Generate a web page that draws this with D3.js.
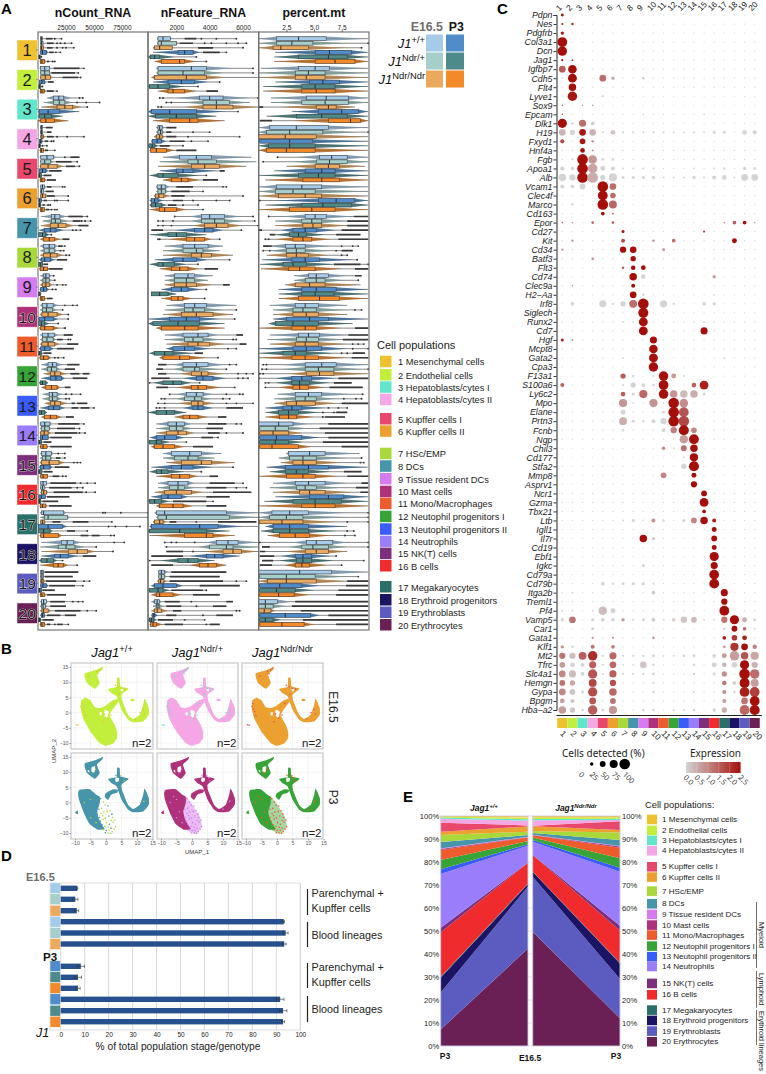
<!DOCTYPE html>
<html><head><meta charset="utf-8">
<script src="https://cdn.jsdelivr.net/npm/d3@7"></script>
<style>html,body{margin:0;padding:0;background:#fff}svg{display:block}text{font-family:"Liberation Sans",Arial,sans-serif}</style>
</head><body><svg id="c" width="766" height="1074"></svg>
<script>
const populations=["Mesenchymal cells","Endothelial cells","Hepatoblasts/cytes I","Hepatoblasts/cytes II","Kupffer cells I","Kupffer cells II","HSc/EMP","DCs","Tissue resident DCs","Mast cells","Mono/Macrophages","Neutophil progenitors I","Neutophil progenitors II","Neutrophils","NK(T) cells","B cells","Megakaryocytes","Erythroid progenitors","Erythroblasts","Erythrocytes"];
const popColors=["#EFC12F","#C1EF3B","#62E6CB","#F5A6E5","#E8486B","#EBA02F","#A9D83A","#4695AA","#D67BF0","#AF3179","#EE5C2D","#38A336","#3A5CFA","#9A7DFB","#7E2F7C","#EF2B2D","#2A7068","#1B1464","#5B5BC0","#6B2055"];
const labelColorIdx=[0,1,2,3,4,5,7,6,8,9,10,11,12,13,14,15,16,17,18,19];
const genotypeColors=["#a6cbe8","#a6cecb","#eba95e","#4f8cc9","#4f8a8b","#f28a2a"];
// each row: q1, median, q3, violin low, violin high, then outliers ([a,b] = dense run)
const nCountRows=[
[[2.4,3,4,2,4.5,[7,13],15,21],[2.5,3.2,4.5,2,5,[8,14],17,20,24,30],[2.4,3.2,4.8,2,5.5,[8,13],17,22,25,32],[2.5,4,7.5,1.5,9,[10,14],16,20],[.8,1.2,2,.5,2.5,3],[2,3.5,6,1.5,7,[8,10],13,15]],
[[2.2,6,10.5,1.5,11,[14,37],41],[2.5,6,10.5,2,11,[12,33],36],[2.5,6.5,11,2,13,[22,36],38],[1.5,3.5,6,1,7,[9,14]],[.8,1.2,2.5,.5,3,4],[2,3.5,5.5,1.5,7,[8,14],17]],
[[13.7,18.5,23,8,30,37,40],[14,19,24,5,31,35,43,55],[17,24,31,3,39,44],[1,9,19,0,37],[1,6,12,0,22],[2.5,7,14.5,0,27]],
[[2.5,3,4,2,4.5,[7,13]],[2.5,3,4,2,4.5,[8,12]],[2.5,3.5,5,2,6,[8,14],17,26,41],[1.5,2.2,3.5,1,4,[6,9],12,14],[.8,1.2,2,.5,2.5,4,8],[2,3,5,1.5,5.5,[6,9],15]],
[[2.5,8,13.7,1.5,16,24,[29,37]],[2.5,6,11,2,14,[16,30],35],[2.5,9,17,1.5,23,[25,33],37],[1,4,7,.5,9,[10,21]],[.7,1.5,3,.5,3.5,[5,12]],[2,3.5,6,1.5,7,[8,16]]],
[[2.5,4,6,2,7,[8,12],22,24],[2.5,3,5,2,5.5,[7,14]],[2.5,4,7,2,8,[8,15],27],[.8,1.5,3,.5,3.5,[5,8],15,17,27],[.8,1.2,2.2,.5,2.8,[4,6],9,11],[2,3.5,6,1.5,6.5,[7,10],12,15,17]],
[[12,15,19.5,3,26,[27,40],44],[12,15.5,20,4,27,[31,38],39,42,47],[11,18,25,2.5,33,[36,45]],[6,11,16,1,23,31,34,38],[.3,4,7,0,10,12],[5,10,14.5,2,20,[22,28]]],
[[5,10,15,2,17,[18,22],24],[5.5,10,15,2,17,20,23],[5,11,17,2,23,25,28],[3,6,11,1,15,[17,26]],[.3,2,4,0,5,[5,9]],[2,5,8.5,1,10,[10,22]]],
[[5,7,10,2,12,14],[4.5,7,10,2,12,15],[4,7,10,2,13,17,22,25],[2.5,5,7.5,1.5,10,13,16],[.2,1,2,0,3],[2,3.5,6,1.5,7,[8,13]]],
[[4,8,13.5,2,18,24,31,35],[4,7.5,13,2,17,22],[3.5,9,17,1.5,23,27],[1,6,13.7,0,18,27],[0,3,6,0,10,18],[2.5,6,13.5,1,19,[23,25]]],
[[4,9,14.5,2,18,[23,31]],[4,8,13.5,2,16,[17,22],27,29],[3.5,9,15,2,19,[26,36]],[2.5,6,10.7,1,14,[17,32]],[.5,1.5,3,0,4,[5,12]],[2,5,9,1,12,15,18,23]],
[[9,13,16.7,3,22,[26,37]],[8.5,12,16.7,3,20,[24,33]],[11,15,20,5,26,[29,37],[40,46]],[11,16,21,3,24,[31,44]],[2,4,7,1,9],[7,12,17,3,20,[24,29]]],
[[10,13,17,4,22,25,30,38],[10,13,17,4,21,25,28],[11,15,20,6,27,[30,33],[35,44]],[9.5,14,19,2,24,[30,36],[38,46],50],[1,3,6,.5,8],[6,11,16.7,3,21,[25,32]]],
[[2.5,6,10.7,1.5,12,[18,37],41],[3,6,10,2,12,[17,33],37],[2.5,5.5,9,1.5,12,[15,35],37,42],[2,4,9,1.5,10,[11,30]],[.5,1.5,3,0,4,[5,12]],[2.5,4.5,8,1.5,9,[11,30]]],
[[3,7,12,2,14,18,24],[4,7,11,2,13,[16,20],24],[3,10,18.7,1.5,24,32,35,38],[2,5,10.7,1,13,[15,28]],[.5,1.5,3.5,0,4,[5,13]],[2.5,4.5,8.5,1.5,9,[13,19],22,25]],
[[2.5,4.5,7.7,2,8,[11,34],38,44,51],[2.5,4,6,2,7,[10,30],35,40],[3,5,7.7,2,9,[14,40],43,51],[.7,3,6.5,.5,7,[8,28]],[.3,1.2,2.5,0,3,[4,18]],[2,4,7,1.5,8,[10,30]]],
[[3,5,23,2,25,58,60,74,98],[6,9,26.5,2,28,98],[2.5,4,6,2,7,[13,20],[31,45],66],[.3,9,21.7,0,26,63,69,79,91],[.3,5,10.7,0,13,[26,33],44],[2.5,5,18,1.5,22,[38,45],[48,55],65,68]],
[[21,26,31.5,3,39,68,77],[18,25,33,2,42,52],[27,35,44,3,52,67],[15,20,27,3,36,[40,52]],[3,8,13.7,1,17,22],[13.7,18,22.6,2,27,35]],
[[2.5,3.5,5,2,6,[6,36]],[2.5,3.5,4.8,2,5.5,[6,31]],[2.5,3.5,5,2,6.5,[7,34],41,46],[2.5,4.5,7.7,2,9,[10,33],40],[.3,1.5,3.3,0,4,[4,15]],[2,3.5,6,1.5,7,[8,25]]],
[[3,5,7.7,2,8,[11,24],31,36,40],[3,4.5,6.8,2,8,[11,25]],[3.5,5,9,2,12,[15,38],44,52],[3,4,5.7,2,6,[8,20],[24,34]],[.3,1.2,2.2,0,3,[4,14]],[2.5,3.5,6,1.5,7,[8,11],15,[17,22],27]]
];
const nFeatureRows=[
[[.9,1.2,1.64,.85,1.7,[2.5,3.2],3.5,4.4,5.6],[.9,1.1,2,.85,2.1,[2.2,3],3.7,4.1,5,5.7,6.2],[.7,1,1.75,.6,1.8,[3.3,4.2],6],[2.1,2.5,3,.6,3.4,[3.6,4.6],5],[.45,.7,1,.3,1.9,3.2],[1.1,2.2,2.5,.7,3.2,3.8]],
[[.9,2.9,3.8,.8,5.4,6.6],[.9,2.4,3.7,.8,4.8,6.6],[.7,2.6,3.8,.5,5,7],[1.5,2.3,3.1,.6,3.9,4.6],[.4,.9,1.6,.3,2.5,3.3],[1.5,1.8,2.5,.9,3.2,[3.8,4.5]]],
[[3.4,4,4.8,2,6.4,1,1.2,6.9],[3.6,4.4,5.2,2.4,6.4,1.4,1.7],[3.6,4.4,5.4,2.5,7,.9,1.1],[.5,1.6,3.2,.3,5,5.7],[.75,2,3.2,.3,4.4],[1.6,2.8,3.3,.6,4.9]],
[[.9,1,1.15,.8,1.3,[1.4,2]],[.9,1.05,1.15,.8,1.3,[1.4,1.7],3,4],[.8,1,1.15,.65,1.3,[1.4,2],2.7,5.8],[.55,.85,1.1,.5,1.4,[1.6,2.5],2.9,3.9],[.35,.55,.7,.3,.9,[1,1.6],2.4],[.45,.8,1.4,.4,1.9,[2,3.2]]],
[[2.2,3.2,4.1,1.2,6.5],[2.7,3.3,4.4,1,6.8],[2.9,3.7,4.6,.9,6.2],[2,2.4,3,1,4.4,[4.6,4.9]],[.9,1.2,2.1,.4,3.4,3.8],[1.7,2.3,2.7,1.2,3.4,[3.6,4.5]]],
[[.85,1.1,1.35,.8,1.6,[2,3],4.8,5],[.9,1.1,1.35,.8,1.5,[1.7,2.8],3.6],[.75,.95,1.25,.65,1.6,[1.7,2.5],6],[.5,.7,.9,.4,1.2,[1.8,2.4],3,4.4,5.2],[.5,.75,1.1,.4,1.4,[1.5,2],2.4,3.3],[1,1.3,2,.4,2.6,3.6]],
[[3.5,4,4.9,2.8,5.9,1.9,6.6],[3.5,4.3,4.9,2.9,6,.9,1.2,1.8,6.7],[3.7,4.4,5.1,3,6,.9,1.2,1.7,6.9],[3.1,3.7,4.2,1.9,4.8,[.5,1.2],5.9],[1.5,2,2.6,.4,3.8],[2.6,3.1,3.7,1.5,4.1,.9,1,4.6]],
[[2.4,3.1,3.9,1.3,4.8],[2.4,3.2,3.6,1.2,4.6],[2.9,3.5,4.1,1.2,5.4],[1.8,2.4,3.2,.7,3.9,5.2],[.9,1.2,1.9,.4,2.6,3.3],[1.7,2.2,2.7,1,3.4,[3.7,4.5]]],
[[1.9,2.7,3.1,1.3,4.2],[1.9,2.6,3.1,1.3,3.9],[1.9,2.6,3.2,1.3,4.2,[4.8,5.2]],[1.7,2.3,2.7,1.1,3.5,3.8],[.5,1,1.5,.5,2],[1.7,2.1,2.4,1.1,3,3.7]],
[[2.5,3.1,3.8,1.4,5.6],[2.5,3,3.7,1.3,4.8,5.6],[2.3,3.2,4.2,1.2,5.4],[1.6,2.6,3.4,.3,4.6,5.5],[.6,2.1,3.4,.3,4.9],[1.1,2.5,3.3,.8,4.9]],
[[2.4,3.3,3.9,1.3,4.5,[5.6,6]],[2.5,3,3.6,1.3,4.7,5.4,5.6],[2.7,3.3,4,1.4,4.9,[5.8,6.2]],[1.8,2.5,3.1,1.4,4,5.1,5.6],[.7,1.3,1.8,.4,3,[3.1,3.6]],[1.2,2.2,2.8,1,3.8,4.5]],
[[2.4,3.2,3.9,1.8,4.9,[.9,1.4],5.2,5.6],[2.4,3.1,3.4,1.8,4.6,[.8,1.2],5],[2.9,3.5,3.9,2.2,4.9,[.9,1.4],5.7,6.2,6.6],[3.2,3.6,4.2,2.4,5,[.5,1.6],5.7,6,6.3],[1.2,1.8,2.3,.6,2.9,.4,3.4],[2.9,3.3,3.8,2,4.7,[.8,1.5],5.5]],
[[2.6,3.2,3.6,2,4.2,1.6,5,5.8,6],[2.5,3.1,3.5,2,4.1,1.1,1.3,4.8,5.2],[2.9,3.3,3.6,2.1,4.3,.9,1.3,5,5.6,6.6],[3,3.3,3.6,2.4,4.2,.8,1,1.3,[5,6]],[.8,1.4,1.9,.3,2.6],[2.4,2.8,3.3,1.9,3.9,[4.5,5]]],
[[1.5,2,2.5,.8,2.9,[3.9,5],5.6,5.9],[1.6,2,2.4,.8,3,[3.8,4.8]],[1.4,2.1,2.6,.8,3.1,[3.9,4.6],5,6],[.8,1.3,2,.4,2.5,[3.5,4.2],4.5],[.4,.8,1.1,.3,1.6,2.6],[.7,1.2,1.9,.5,2.5,[3,4.2]]],
[[1.7,2.8,3.5,1.2,4.7],[1.9,2.7,3.3,1.2,4.3],[2.3,3.5,4.1,1.4,5.5],[1.7,2.3,3,.5,4.2,5.4],[.8,1.1,1.5,.4,2.5,3.5],[1.7,2.2,2.8,.8,3.3,[4,4.5]]],
[[1.5,2.1,2.7,.9,3.1,[4,5.5],6],[1.6,2.1,2.5,.9,3.1,[3.8,5],5.6,6.2],[1.3,2,2.9,.7,3.6,[4.2,6.5]],[1.1,1.5,2.3,.5,2.7,[3.8,5.2]],[.4,.7,1.1,.3,1.6,[1.8,3.8],4.2],[1,1.8,2.4,.8,3,[3.8,5]]],
[[.8,1.3,5,.7,7,7],[.9,1.4,5.2,.8,7],[.7,1,1.2,.6,1.4,[1.6,2],3.2,[4.5,6.8]],[.5,3.4,4.5,.4,6,7],[.4,2.2,3.8,.3,5.2],[2.5,3.8,4.2,.4,5.5]],
[[4.4,5.1,5.7,3.8,6.9,1.3,1.7,2,3.1],[4,5,5.4,3.3,6.9,1.4],[4.8,5.4,5.9,3.6,6.9,[1.4,2.4],3],[3.8,4.3,4.8,2.8,5.8,[.5,2.4]],[2.1,2.7,3.3,1,4.3,.4],[3.4,3.9,4.4,2.8,5,[.5,1.8]]],
[[.95,1.1,1.3,.9,1.5,[1.7,5]],[.95,1.1,1.3,.9,1.4,[1.6,4.6]],[.95,1.05,1.25,.85,1.4,[1.6,4.8],5.6,6.2],[.7,1.2,2,.5,2.4,[3.4,5.8]],[.4,.9,1.2,.3,1.6,[1.7,3.6],3.8],[.8,1,1.8,.5,2.3,[3,4.6]]],
[[.7,.85,1,.5,1.1,[1.3,2.2],2.9,[5,5.4]],[.8,.9,1,.6,1.2,[1.4,2.3],3.2,[4.2,5]],[.7,.85,1.1,.5,1.5,[1.8,2.3],5.6,5.8],[.55,.65,.7,.5,.9,[1.4,2],3.6,[4.4,5.4]],[.4,.5,.65,.3,.8,[.9,1.8],2.5,3.7],[.45,.6,.8,.4,1.2,[1.3,2.4],3.8,[4,4.6]]]
];
const percentMtRows=[
[[1.6,3.6,6.1,0,9.9],[1.6,3,4.9,0,8,9.9],[1.3,2,4.5,0,8,9.3],[5.1,6.4,8.4,1.5,9.9],[3.6,6.3,8,1.4,9.9],[5.1,6.9,8.7,1.4,9.9]],
[[3.6,5.1,6.4,.2,9.9],[3.3,4.5,6,0,9.9],[3.3,4.3,6,0,9.9],[4.6,5.8,7.3,1.5,9.9],[3.9,5.1,6.9,.4,9.9],[3.9,5.2,6.9,.4,9.9]],
[[4.3,6.1,8.1,1.1,9.9],[3.9,6,8.1,1.1,9.9],[5.2,6.3,7,1.8,8.7,[0,.4]],[5.4,7.5,9,3,9.9],[3.4,5.7,8,.7,9.9],[6.3,8.3,9.2,3,9.9,[.1,1.2]]],
[[1,3.4,6.3,0,9.9],[.7,2.8,5.8,0,8.9,9.9],[0,2.4,5.2,0,9.9],[.1,2.8,4.9,0,9.9],[.9,2.8,5.1,0,9.9],[.7,2.5,5.1,0,9.9]],
[[5.5,6.6,8,3.4,9.9,1.7],[5.2,6.4,8,3,9.9,.4],[5.1,6.3,7.3,2.5,9.6],[4.2,5.7,6.9,1.4,9.9],[3.6,5.4,6.9,0,9.9],[4,5.7,7.3,.6,9.9]],
[[1.6,3.9,5.7,0,9.9],[1.5,3.1,5.1,0,9.9],[1.8,4.2,5.7,0,9.9],[5.4,7,8.7,1.5,9.9,.1],[3.9,5.8,8.4,.6,9.9],[2.8,4.8,6.9,0,9.9]],
[[4.2,5.1,6.1,2,8.5,.9,[8.6,9.9]],[3.9,4.8,5.7,1.5,8,[8,9.9]],[4,4.9,5.7,1.5,8,[8,9.9]],[3.1,4.2,5.2,2,7,[0,.3],[7.5,9.9]],[2.8,3.6,4.3,1.5,6,[1,1.5],[7,9.2]],[3.1,4,4.8,1.5,6.5,.6,.9,[7.2,9.9]]],
[[2.4,3.3,4.2,.8,6.5,[.4,1.2],7.5,8.5,9],[2.5,3.4,4.2,1,6.5,.4,1,7,[7.5,8.5]],[2.5,3.4,4.5,.7,6.3,7.5,8],[3,4.2,5.5,.3,8.5,8.9],[2.2,3.1,4.3,.1,6.8,[6.8,9.2],9.9],[2.7,3.7,5.1,.2,7.6,[8.7,9.9]]],
[[4.5,5.2,6.3,3.2,8,[8.7,9.3]],[4.2,5.2,6,3.2,7.8,9],[3.3,4.6,6,2.4,9.2],[3.9,5.2,7,1.8,9.9],[3.9,5.1,6.8,1.8,9.9],[3.6,5.5,7.3,1.8,9.9]],
[[3.3,4.2,5.4,1,8],[3.1,4,5.2,1.3,7.8,8.7,9.3],[3.1,4.3,5.4,1.3,8],[2.5,4.6,6.3,1.3,9.9],[1.5,3.1,5.4,.9,8.5],[3,4.2,5.2,0,7.5,[8.7,9.9]]],
[[3.6,4.5,5.5,1,8,[8.1,9.9]],[3.4,4.3,5.4,.8,7.8,[7.6,9.9]],[3.3,4.2,5.4,1,8,8.5,9,9.5],[3.1,4.3,5.7,0,8,8.5,9.9],[2.2,3.3,4.3,0,6.8,7.5,8,[8.5,9.6]],[3,4.2,5.4,0,8,[8.4,9.9]]],
[[4.2,5.7,7,2,9.9,.4,.7],[4.2,5.4,6.8,2,9.3,.3,.7,9.9],[4.3,5.5,6.8,2.7,9.9,.1,.4],[3,3.9,4.8,1.5,7,[0,.1],[7.2,9.9]],[3,3.7,4.6,1.5,6.4,.6,.9,[6.8,8.4]],[3.1,3.7,4.5,1.8,6,.6,[6.4,9.4]]],
[[3.3,4.5,5.7,1.7,8.5,9.4],[3.3,4.2,5.2,1.4,7,7.7,8.8,9.3],[2.5,3.4,5.1,1.4,7,[7.5,9.9]],[2.2,3,3.9,.6,6,6.3,7.2,8],[1.8,2.7,3.6,.6,5.5,5.8,6.8,[7,8]],[1.9,2.7,3.4,.6,5,5.8,[6,7.8]]],
[[0,1.8,3.1,0,4.5,[6.3,9.9]],[.1,1.5,2.7,0,4.5,[5.5,9.9]],[.1,1.3,2.7,0,4,[6,9.9]],[.1,1.6,3.9,0,5.5,[6.3,9.9]],[.1,1.5,2.7,0,4,[5.8,9.9]],[.1,1.2,3.6,0,4.8,[7.5,9.9]]],
[[2.7,4.6,6,2.5,9.1],[2.8,4,5.2,1.8,8,9.3],[3.1,4,5.2,2,7.5,9.2,9.5],[2.4,4.5,6.3,.7,9.9],[2.4,3.4,4.5,1,6.5,[7.7,9.3]],[2.5,4,5.1,0,7.2,[8,9.9]]],
[[3.3,4.5,6,1.3,8,[9.3,9.9]],[3.4,4.2,5.2,1,7.5,[8.8,9.9]],[3.7,4.6,6,1.3,8.5,[9.2,9.9]],[4.6,6.3,7.7,1.5,9.9],[3.1,5.1,7.5,.5,9.9],[3.9,5.1,6.9,0,9.9]],
[[1.2,2.8,4.5,0,8,9.9],[1,2.5,4,0,8,9.9],[.1,2.1,4,0,7,8,9.9],[1.3,2.8,4.5,.6,8],[1.3,2.8,4.5,.2,7,8,8.6],[1.9,3.3,4.6,.8,6.5,7.8,8.7]],
[[4.3,5.2,6.7,3,8,.1,9.9],[3.9,4.9,6.3,2.7,8,[.3,1],9.9],[4.2,5.2,6.3,2.4,8,[.1,.6]],[3.3,4,4.8,2,6.5,[.1,1.4],7],[3.4,4,4.8,1.8,6.8,[.3,1.3],9.5],[3.3,3.9,4.6,2.3,6.2,[.1,1.2],7.5]],
[[0,3.7,6.6,0,9.9],[.1,2.5,5.1,0,8,9],[.8,2.5,5.2,0,8,[8,9.9]],[.1,1.9,3.9,0,5.5,[7.9,9.9]],[.1,1.6,3.3,0,5,[7.2,9.9]],[.1,1.8,3.2,0,4.6,[7,9.9]]],
[[0,.6,1.7,0,3,[3.3,9.9]],[0,.6,1.3,0,2.5,[3,9.9]],[0,.5,1.1,0,1.5,[3.8,9.9]],[.1,2.4,4.7,0,5.5,[6.3,9.9]],[.1,.6,1.3,0,2,[4,9.9]],[.1,2.1,4.1,0,5,[7,9.9]]]
];
const nCountTicks=[25,50,75], nFeatureTicks=[2,4,6], percentTicks=[2.5,5,7.5];
const geneNames=["Pdpn","Nes","Pdgfrb","Col3a1","Dcn","Jag1","Igfbp7","Cdh5","Flt4","Lyve1","Sox9","Epcam","Dlk1","H19","Fxyd1","Hnf4a","Fgb","Apoa1","Alb","Vcam1","Clec4f","Marco","Cd163","Epor","Cd27","Kit","Cd34","Batf3","Flt3","Cd74","Clec9a","H2−Aa","Irf8","Siglech","Runx2","Cd7","Hgf","Mcpt8","Gata2","Cpa3","F13a1","S100a6","Ly6c2","Mpo","Elane","Prtn3","Fcnb","Ngp","Chil3","Cd177","Stfa2","Mmp8","Asprv1","Ncr1","Gzma","Tbx21","Ltb","Igll1","Il7r","Cd19","Ebf1","Igkc","Cd79a","Cd79b","Itga2b","Treml1","Pf4","Vamp5","Car1","Gata1","Klf1","Mt2","Tfrc","Slc4a1","Hemgn","Gypa","Bpgm","Hba−a2"];
// per gene: [population, dot size, expression]
const geneDots=[
[[1,8,2.4]],[[1,4,2.2],[2,5,2.2]],[[1,10,2.4]],[[1,85,2.5]],[[1,80,2.5]],[[1,4,2.5],[2,3,2]],[[1,40,1.5],[2,65,2.5]],[[2,70,2.5],[5,40,1.3],[6,10,.6],[9,6,.1]],[[2,50,2.5]],[[2,80,2.4],[5,4,.1]],[[1,1.5,2],[3,1.5,1],[4,2,1]],[[1,2,2],[9,1,1],[15,1,1]],
[[1,75,2.5],[2,5,0],[3,45,1.3],[4,12,.1]],
[[1,40,.4],[2,25,0],[3,40,2.4],[4,40,.4],[5,4,0],[6,20,.2],[7,4,0],[8,4,0],[9,4,0],[10,4,0],[11,4,0],[12,3,0],[13,3,0],[14,5,0],[15,3,0],[16,8,0],[17,8,0],[19,20,0],[20,15,0]],
[[1,15,1.8],[3,30,2.4],[4,5,1]],[[3,20,2.5],[4,3,1]],[[2,4,0],[3,100,2.5],[4,65,.8],[5,6,0],[6,6,0]],
[[1,15,0],[2,10,0],[3,100,2.5],[4,80,.6],[5,20,0],[6,15,0],[7,3,0],[8,3,0],[9,4,0],[10,4,0],[14,3,0],[16,4,0],[17,5,0],[19,10,0],[20,8,0]],
[[1,50,0],[2,35,0],[3,100,2.5],[4,100,.5],[5,25,0],[6,60,0],[7,8,0],[8,8,0],[9,8,0],[10,10,0],[11,4,0],[12,3,0],[13,4,0],[14,10,0],[15,4,0],[16,15,0],[17,20,0],[18,3,0],[19,40,0],[20,40,0]],
[[1,14,0],[2,12,0],[3,30,0],[5,100,2.5],[6,40,1.3]],[[5,85,2.5],[6,28,1.3]],[[2,6,0],[5,100,2.5],[6,55,1.4]],[[5,12,2.5],[6,3,1.5]],
[[1,3,1.3],[2,3,.7],[4,6,1.5],[6,6,1.5],[17,3,.8],[18,12,1.5],[19,12,2.5],[20,3,.6]],[[7,8,2.5],[15,4,2]],[[2,5,.8],[7,14,1.7],[10,5,1],[12,12,1.3],[18,22,2.5]],[[1,5,.7],[7,35,2.5],[8,38,2.5],[11,8,.7]],[[4,6,1],[8,25,2.5]],[[7,6,1.5],[8,18,2.5],[9,20,2.5]],[[8,50,2.5],[9,18,0],[16,10,.7]],[[2,2,1],[8,14,2.5]],[[8,40,2.5],[9,6,0],[16,3,0]],
[[2,12,0],[5,45,0],[6,5,0],[7,25,0],[8,55,1.3],[9,100,2.5],[11,45,0],[12,4,0],[15,12,0],[16,10,0]],[[9,90,2.5]],[[7,3,0],[8,3,0],[9,70,2.5],[15,3,0]],[[9,70,2.5],[15,45,2.5]],[[1,8,2.3],[2,3,1],[10,45,2.5]],[[10,65,2.5]],[[7,3,0],[10,70,2.5],[17,4,0]],[[10,80,2.5]],
[[7,25,1.5],[8,6,0],[10,3,0],[11,80,2.5],[12,22,.7],[13,3,0]],[[1,14,1.5],[7,4,0],[8,25,0],[9,12,0],[10,6,0],[11,85,2.5],[14,20,1.5],[15,70,2.3]],[[7,20,1.5],[8,8,0],[9,60,1.4],[11,80,2.5],[12,50,.8],[13,50,.3],[14,50,.5],[15,8,0]],[[7,60,.8],[8,3,0],[10,60,.8],[11,3,0],[12,100,2.5],[13,65,.9]],[[7,22,0],[11,6,0],[12,100,2.5],[13,85,1.6]],[[7,55,.5],[8,8,0],[9,5,0],[10,14,0],[11,35,0],[12,100,2.5],[13,100,1.8]],[[7,5,0],[11,12,0],[12,35,1.1],[13,90,2.5],[14,28,1]],[[13,65,.7],[14,85,2.5]],[[11,10,1],[12,3,0],[13,30,1.3],[14,50,2.5]],[[13,4,0],[14,60,2.5]],[[13,25,0],[14,90,2.5]],[[11,30,1],[14,22,2.5]],[[14,35,2.5]],[[15,30,2.5]],[[15,70,2.5]],[[15,12,2.5]],
[[7,3,0],[8,8,0],[9,3,0],[10,14,.8],[11,5,0],[13,8,0],[14,30,1],[15,50,2.5],[16,14,2.3]],[[16,22,2.5]],[[9,50,2.5],[10,8,.2],[16,30,2.5]],[[16,22,2.5]],[[16,75,2.5]],[[9,8,0],[16,45,2.5]],[[16,85,2.5]],[[5,12,0],[6,5,0],[7,8,0],[8,8,0],[9,10,0],[10,4,0],[16,85,2.5]],[[2,3,0],[10,12,.1],[17,45,2.5]],[[17,35,2.5]],[[1,3,0],[2,3,0],[4,3,0],[5,65,.3],[6,22,0],[17,85,2.5]],
[[1,10,0],[2,40,1.2],[4,8,0],[5,12,0],[6,10,0],[7,10,.7],[8,4,0],[9,8,0],[10,14,.1],[11,4,0],[12,12,0],[13,35,.2],[14,30,.3],[15,3,0],[16,3,0],[17,35,1.2],[18,75,2.5],[19,22,.5],[20,8,0]],
[[4,8,0],[17,5,0],[18,30,2.5],[19,12,1.3],[20,3,0]],[[4,4,1],[6,4,1],[10,5,1],[17,12,2.3],[18,28,2],[19,20,2.3]],[[1,10,.8],[2,6,0],[4,14,1.2],[6,12,1.1],[17,6,.8],[18,60,2],[19,40,2.5],[20,18,1]],
[[1,35,1.2],[2,35,.3],[3,55,1.5],[4,80,2.1],[5,5,0],[6,45,1.4],[7,4,0],[8,4,0],[9,5,0],[10,8,0],[11,3,0],[12,3,0],[13,6,0],[14,8,0],[16,12,0],[17,22,.7],[18,80,.7],[19,50,1.6],[20,60,.6]],
[[1,30,.7],[2,22,0],[3,12,0],[4,45,1.5],[5,4,0],[6,40,1.4],[7,3,0],[8,3,0],[9,40,.2],[10,6,0],[14,6,0],[16,22,0],[17,18,.4],[18,30,0],[19,75,2.5],[20,35,.4]],
[[1,40,1],[2,45,.3],[3,12,0],[4,75,1.6],[5,4,0],[6,45,1.5],[7,4,0],[8,4,0],[9,4,0],[10,6,0],[14,5,0],[16,8,0],[17,25,.9],[19,100,2.5],[20,80,1.3]],
[[1,30,1.2],[2,25,.6],[4,55,1.8],[5,3,0],[6,35,1.7],[10,4,0],[17,18,1.2],[18,14,0],[19,90,2.5],[20,55,.7]],
[[1,40,1],[2,30,.2],[3,8,0],[4,75,1.7],[6,50,1.4],[10,5,0],[14,4,0],[17,14,.9],[18,5,0],[19,85,2.3],[20,85,1.9]],
[[1,20,.7],[2,14,.2],[4,40,1.6],[6,30,1.2],[17,14,.7],[19,40,1.2],[20,85,2.5]],
[[1,50,.7],[2,25,.2],[3,5,0],[4,80,1.5],[5,8,0],[6,60,.8],[9,6,0],[10,6,0],[12,4,0],[13,4,0],[14,6,0],[16,10,0],[17,25,.5],[19,85,1.4],[20,90,2.5]]
];
const sizeLegendLabels=["0","25","50","75","100"], sizeLegendSizes=[.3,10,30,57,100];
const exprTicks=[0,.5,1,1.5,2,2.5];
// UMAP outlines in UMAP coordinates
const umapTop=[[-6.7,13],[-3.1,14.1],[-1,15],[-1.2,14.2],[-2.9,12.5],[-2,9.7],[-3.6,7.8],[-6.1,9.7],[-6.9,11.9]];
const umapArc=[[.7,7.8],[3.4,8.4],[3.6,11.4],[4.4,11.4],[4.7,8.6],[7.1,8],[7.1,7.5],[5,5.9],[5.3,3.7],[7.1,-.7],[8.75,-2.1],[10.9,-.7],[12,2.6],[12.5,4.6],[13.8,1.5],[13.8,-.7],[12,-2.9],[8.75,-3.2],[7.1,-2.3],[5,1],[3.4,5.35],[1.8,6.4]];
const umapBlob=[[-7.95,4.04],[-6.55,4.9],[-5.04,4.04],[-3.64,1.84],[-2.03,1.51],[-.09,2.28],[1.75,3.7],[3.58,4.58],[4.12,3.7],[2.82,1.84],[2.07,.96],[1.2,-.68],[1.75,-2.1],[2.82,-4],[3.58,-6.2],[3.58,-8.35],[2.28,-10.2],[-.09,-10.9],[-2.24,-9.8],[-4.72,-6.7],[-6.12,-4.3],[-7.4,-1.8],[-8.17,1.5]];
const umapSmall1=[[8,4.5],[9,4.5],[9.2,3.8],[8,3.8]];
const umapSmall2=[[2,3.9],[3.2,4],[3.3,3],[2,3]];
const umapHolesE=[[[-.4,.9],[.9,.3],[.4,-1.8],[-.5,-.9]],[[-2,.1],[-1.3,0],[-1.5,-1],[-2.1,-.8]],[[4.6,7.6],[5.6,7.8],[5.2,6.8]]];
const umapCrescent=[[-8.5,4.2],[-5.3,4.4],[-3.1,2.6],[-2,1.9],[-2,-.2],[-2.8,-2.9],[-2.2,-5.6],[-1,-7.8],[-.4,-8.8],[-2.6,-8.9],[-5.3,-7],[-7.1,-3.5],[-8.7,.9],[-9,3.1]];
const umapLobe=[[-.1,3.1],[2.3,4.4],[3.9,4.2],[3.6,3.3],[1.7,2.6],[.7,.9],[-.4,1.9]];
const umapSpot=[[-10,-3.4],[-9.2,-2.5],[-9,-3.8]];
const umapHolesP=[[[-4.6,11.6],[-3.5,11.9],[-3.7,10],[-4.7,10.2]],[[-6,10.6],[-5.4,10.6],[-5.4,9.8]],[[3.1,8.2],[4.2,8],[4,6.9],[3,7]]];
const umapFaint=[[-2,1.8],[0,-.6],[2.5,-4.6],[3.2,-8],[1.2,-10.2],[-1.8,-9],[-2.6,-6],[-3,-3]];
const umapEdgePoints=[[-8,2],[-7.6,1.2],[-7.2,.3],[-6.8,-1],[-7.8,3],[-3,13.5],[-2,14],[-1.5,14.6],[-2.6,12.8],[-5.5,12],[11,0],[12,1],[12.4,-.5],[9.5,-2],[3,9],[4,8.5],[5,8],[6,7.8],[4.2,6],[-9.5,-4],[-9,-4.2],[-.5,-.5],[-1,-3],[.5,-1.8],[1.6,-.8],[2.5,3]];
const umapInnerPoints=[[-1.7,1.3],[-.8,.2],[-.3,-.8],[.6,-1.1],[1.3,-2.7],[-1.4,-1.9],[-2.3,-2.2],[-.7,-3.1],[.4,-2.9],[1.9,-3.8],[2.1,-4.9],[-1.6,-3.6],[-2.2,-4.9],[-1.1,-4.3],[-.2,-5.1],[.9,-4.4],[1.7,-5.9],[2.9,-5.7],[-1.9,-6.1],[-.9,-5.5],[.2,-6.6],[1.1,-7.1],[2.3,-6.4],[3.1,-7.9],[-1.3,-7.2],[-.4,-7.8],[.7,-8.1],[1.6,-8.4],[2.6,-8.7],[-.9,-8.9],[.1,-9.2],[1,-9.1],[2,-9.6],[-.2,-9.9],[.7,-10],[1.5,-10.1],[-6,2],[-5,1],[-7,0],[-4,-3],[-5,-5],[-3.2,-6.6],[5.4,8.2],[5.8,7.2],[4.8,8.8],[3.2,9],[-3.4,11],[-4.2,9.8],[10,-2.2],[12.2,.4]];
const umapSecondary=[["#EFC12F","#62E6CB","#E8486B"],["#A9D83A","#D67BF0","#EE5C2D"]];
const umapPrimary=[["#C1EF3B","#F5A6E5","#EBA02F"],["#4695AA","#AF3179","#38A336"]];
const umapTicks=[-10,-5,0,5,10,15];
// panel D
const groupLabels=["Parenchymal + Kupffer cells","Blood lineages"];
const dMeans=[6.9,6.1,6.7,93.1,93.9,93.3,8.4,7.2,7.2,91.6,92.8,92.8];
const dErrors=[.2,1.1,.8,.3,1,.8,1.5,1.5,.9,1.6,1.6,.6];
const dColorIdx=[0,1,2,0,1,2,3,4,5,3,4,5];
const dTicks=[0,10,20,30,40,50,60,70,80,90,100];
// panel E, shares from population 20 upwards
const shareLeftP3=[7.2,16.1,6.4,.4,19.2,2.1,23.4,2,4.1,4.3,.5,.2,2.8,3,1.5,3.9,1.7,.5,.4,.3];
const shareLeftE=[42.4,26.9,1.1,.3,9,.1,7.3,.6,1.4,1.6,.1,.2,.7,1.5,2.2,.5,2.1,.6,.7,.7];
const shareRightE=[49.7,23.9,2.2,.1,7.1,.1,5.7,.8,1,1,.1,.2,.7,.9,2,.3,2.3,.6,.7,.6];
const shareRightP3=[12,17.1,6.8,.3,13.9,2.2,23.5,1.7,4.1,4.6,.5,.3,2.6,3.2,1.1,3.8,.6,.5,.6,.6];
const pctTicks=[0,10,20,30,40,50,60,70,80,90,100];

const svg=d3.select("#c");
function txt(g,x,y,s,o={}){const t=g.append("text").attr("x",x).attr("y",y).text(s).attr("font-size",o.size||10).attr("fill",o.fill||"#111");
 if(o.anchor)t.attr("text-anchor",o.anchor);if(o.bold)t.attr("font-weight","bold");if(o.italic)t.attr("font-style","italic");if(o.rotate!==undefined)t.attr("transform",`rotate(${o.rotate} ${x} ${y})`);if(o.family)t.style("font-family",o.family);return t;}
function sup(g,x,y,base,s,o={}){const t=g.append("text").attr("x",x).attr("y",y).attr("font-size",o.size||12).attr("fill","#111").attr("text-anchor",o.anchor||"start").attr("font-weight",o.bold?"bold":null);
 t.append("tspan").attr("font-style","italic").text(base);t.append("tspan").attr("dy",-(o.size||12)*.35).attr("font-size",(o.size||12)*.72).attr("font-style",o.supItalic?"italic":null).text(s);return t;}
[["A",1,14],["B",1,654],["C",497,14],["D",1,861],["E",403,802]].forEach(d=>txt(svg,d[1],d[2],d[0],{size:15,bold:true,fill:"#000"}));

/* ---------- A ---------- */
const aTop=32,aBottom=630,rowStep=4.55,groupStep=29.63;
const defs=svg.append("defs");
const aPanels=[
 {title:"nCount_RNA",rows:nCountRows,ticks:nCountTicks,x:d3.scaleLinear().domain([0,98.2]).range([38,148]),fmt:d=>d*1000},
 {title:"nFeature_RNA",rows:nFeatureRows,ticks:nFeatureTicks,x:d3.scaleLinear().domain([.3,6.94]).range([148,258.7]),fmt:d=>d*1000},
 {title:"percent.mt",rows:percentMtRows,ticks:percentTicks,x:d3.scaleLinear().domain([0,9.97]).range([258.7,369]),fmt:d=>d3.format(".1f")(d).replace(".",",")}
];
const area=d3.line().curve(d3.curveLinearClosed);
aPanels.forEach((p,pi)=>{
 const [x0,x1]=p.x.range();
 defs.append("clipPath").attr("id","clipA"+pi).append("rect").attr("x",x0).attr("y",aTop).attr("width",x1-x0).attr("height",aBottom-aTop);
 const g=svg.append("g").attr("clip-path",`url(#clipA${pi})`);
 p.rows.forEach((pop,i)=>pop.forEach((r,j)=>{
  const y=38.7+groupStep*i+rowStep*j,c=genotypeColors[j];
  const [q1,m,q3,vl,vh,...outs]=r;
  const flat=outs.flat();
  const lo=Math.min(vl,...flat),hi=Math.max(vh,...flat);
  g.append("line").attr("x1",p.x(lo)).attr("x2",p.x(hi)).attr("y1",y).attr("y2",y).attr("stroke","#555").attr("stroke-width",.7);
  outs.forEach(o=>{
   if(Array.isArray(o)) g.append("line").attr("x1",p.x(o[0])).attr("x2",p.x(o[1])).attr("y1",y).attr("y2",y).attr("stroke","#3a3a3a").attr("stroke-width",1.7);
   else g.append("circle").attr("cx",p.x(o)).attr("cy",y).attr("r",.95).attr("fill","#333");
  });
  g.append("path").attr("d",area([[p.x(vl),y],[p.x(q1),y-2.1],[p.x(q3),y-2.1],[p.x(vh),y],[p.x(q3),y+2.1],[p.x(q1),y+2.1]])).attr("fill",d3.color(c).darker(.9)).attr("fill-opacity",.85);
  g.append("rect").attr("x",p.x(q1)).attr("y",y-1.9).attr("width",Math.max(p.x(q3)-p.x(q1),.8)).attr("height",3.8).attr("fill",c).attr("stroke","#3c3c3c").attr("stroke-width",.55);
  g.append("line").attr("x1",p.x(m)).attr("x2",p.x(m)).attr("y1",y-1.9).attr("y2",y+1.9).attr("stroke","#222").attr("stroke-width",.9);
 }));
 svg.append("rect").attr("x",x0).attr("y",aTop).attr("width",x1-x0).attr("height",aBottom-aTop).attr("fill","none").attr("stroke","#6a6a6a").attr("stroke-width",1.1);
 const ax=svg.append("g").attr("transform",`translate(0,${aTop})`).call(d3.axisTop(p.x).tickValues(p.ticks).tickFormat(p.fmt).tickSize(1.5).tickPadding(1));
 ax.select(".domain").remove();ax.selectAll("text").attr("font-size",6.6).attr("fill","#222").style("font-family","Liberation Sans");ax.selectAll("line").attr("stroke","#666");
 txt(svg,(x0+x1)/2,17,p.title,{size:12.3,bold:true,anchor:"middle",fill:"#111"});
});
popColors.forEach((_,i)=>{
 const y=40+groupStep*i;
 svg.append("rect").attr("x",17).attr("y",y).attr("width",20.5).attr("height",20.5).attr("fill",popColors[labelColorIdx[i]]).attr("stroke","#fff").attr("stroke-opacity",.6).attr("stroke-width",.8);
 svg.append("line").attr("x1",36).attr("x2",38).attr("y1",y+10).attr("y2",y+10).attr("stroke","#555").attr("stroke-width",.6);
 const t=txt(svg,27.2,y+16,String(i+1),{size:i<9?16.5:15.5,anchor:"middle",fill:"#1a1a1a"});
 if(i>=14||i==9) t.attr("stroke","#fff").attr("stroke-width",.7).attr("paint-order","stroke");
});
/* genotype legend */
txt(svg,410.7,31,"E16.5",{size:12.3,bold:true,fill:"#6f6f6f"});
txt(svg,448.7,31,"P3",{size:12.3,bold:true,fill:"#111"});
genotypeColors.forEach((c,i)=>{
 const col=i<3?0:1,row=i%3;
 svg.append("rect").attr("x",col?446:426).attr("y",[34.5,52.5,70.5][row]).attr("width",col?18:17).attr("height",17).attr("fill",c);
});
sup(svg,425,47.5,"J1","+/+",{size:13,anchor:"end"});
sup(svg,425,65.5,"J1","Ndr/+",{size:13,anchor:"end"});
sup(svg,425,84,"J1","Ndr/Ndr",{size:13,anchor:"end"});
/* population legend */
const legY=[361.7,375,387.3,399.7,419,431.3,453.7,466.3,479,491.7,503.7,516.7,529.3,541.7,553.7,566,587,600,612.5,625];
txt(svg,377,349,"Cell populations",{size:11,fill:"#222"});
populations.forEach((n,i)=>{
 svg.append("rect").attr("x",380).attr("y",legY[i]-6).attr("width",11.5).attr("height",11.5).attr("fill",popColors[i]);
 txt(svg,398,legY[i]+3.5,(i+1)+" "+n,{size:9.3,fill:"#222"});
});

/* ---------- B ---------- */
const uCols=[[71,153],[157,238],[242,323]],uRows=[[663,749],[753,839]];
const uY0=[[667,743],[757,833]];
const blob=d3.line().curve(d3.curveCardinalClosed.tension(.55));
[`Jag1|+/+`,`Jag1|Ndr/+`,`Jag1|Ndr/Ndr`].forEach((t,i)=>{const [a,b]=t.split("|");sup(svg,(uCols[i][0]+uCols[i][1])/2,657,a,b,{size:13,anchor:"middle"});});
uRows.forEach((rw,ri)=>uCols.forEach((cl,ci)=>{
 const x=d3.scaleLinear().domain([-10,15]).range([cl[0]+4,cl[0]+81.5]);
 const y=d3.scaleLinear().domain([-10,15]).range([uY0[ri][1],uY0[ri][0]]);
 const g=svg.append("g");
 g.append("rect").attr("x",cl[0]).attr("y",rw[0]).attr("width",cl[1]-cl[0]).attr("height",rw[1]-rw[0]).attr("fill","#fff");
 umapTicks.forEach(v=>{g.append("line").attr("x1",x(v)).attr("x2",x(v)).attr("y1",rw[0]).attr("y2",rw[1]).attr("stroke","#ececec").attr("stroke-width",.6);
  g.append("line").attr("x1",cl[0]).attr("x2",cl[1]).attr("y1",y(v)).attr("y2",y(v)).attr("stroke","#ececec").attr("stroke-width",.6);});
 const c=umapPrimary[ri][ci],c2=umapSecondary[ri][ci];
 const toPx=a=>a.map(d=>[x(d[0]),y(d[1])]);
 const shapes=ri==0?[umapTop,umapArc,umapBlob,umapSmall1,umapSmall2]:[umapTop,umapArc,umapCrescent,umapLobe,umapSpot];
 if(ri==1&&ci==1) g.append("path").attr("d",blob(toPx(umapFaint))).attr("fill","#D67BF0").attr("fill-opacity",.5);
 if(ri==1&&ci==2) g.append("path").attr("d",blob(toPx(umapFaint))).attr("fill","#38A336").attr("fill-opacity",.45);
 shapes.forEach(s=>g.append("path").attr("d",blob(toPx(s))).attr("fill",c));
 (ri==0?umapHolesE:umapHolesP).forEach(s=>g.append("path").attr("d",blob(toPx(s))).attr("fill","#fff"));
 (ri==0?umapEdgePoints:umapInnerPoints).forEach((d,k)=>{
  g.append("circle").attr("cx",x(d[0])).attr("cy",y(d[1])).attr("r",.8).attr("fill",(ri==1&&ci==0&&k%3==0)?"#4695AA":c2);
 });
 g.append("rect").attr("x",cl[0]).attr("y",rw[0]).attr("width",cl[1]-cl[0]).attr("height",rw[1]-rw[0]).attr("fill","none").attr("stroke","#c4c4c4").attr("stroke-width",1.1);
 txt(g,cl[1]-1.5,rw[1]-2.5,"n=2",{size:11.5,anchor:"end",fill:"#222"});
 if(ci==0){const ay=svg.append("g").attr("transform",`translate(${cl[0]},0)`).call(d3.axisLeft(y).tickValues(umapTicks).tickFormat(d=>d<0?"−"+(-d):d).tickSize(1.5).tickPadding(1));
  ay.select(".domain").remove();ay.selectAll("text").attr("font-size",5.2).attr("fill","#555").style("font-family","Liberation Sans");ay.selectAll("line").attr("stroke","#999");}
 if(ri==1){const ax=svg.append("g").attr("transform",`translate(0,${rw[1]})`).call(d3.axisBottom(x).tickValues(umapTicks).tickFormat(d=>d<0?"−"+(-d):d).tickSize(1.5).tickPadding(1));
  ax.select(".domain").remove();ax.selectAll("text").attr("font-size",5.2).attr("fill","#555").style("font-family","Liberation Sans");ax.selectAll("line").attr("stroke","#999");}
}));
txt(svg,329,707,"E16.5",{size:12,anchor:"middle",rotate:90,fill:"#222"});
txt(svg,329,797,"P3",{size:12,anchor:"middle",rotate:90,fill:"#222"});
txt(svg,56,751,"UMAP_2",{size:6,anchor:"middle",rotate:-90,fill:"#333"});
txt(svg,197,854,"UMAP_1",{size:6,anchor:"middle",fill:"#333"});

/* ---------- C ---------- */
const cx=d3.scaleLinear().domain([1,20]).range([562.3,754.7]);
const cy=d3.scalePoint().domain(geneNames).range([15,710]);
const rDot=d3.scaleSqrt().domain([0,100]).range([0,5.3]);
const cDot=d3.scaleLinear().domain([0,2.5]).range(["#d4d4d4","#a50f0a"]);
const cgY=svg.append("g").attr("transform","translate(556.5,0)").call(d3.axisLeft(cy).tickSize(3).tickPadding(1));
cgY.select(".domain").attr("stroke","#222").attr("stroke-width",1);
cgY.selectAll("text").attr("font-size",8.8).attr("font-style","italic").attr("fill","#222").style("font-family","Liberation Sans");
cgY.selectAll("line").attr("stroke","#333");
svg.append("line").attr("x1",556.5).attr("x2",762).attr("y1",715.5).attr("y2",715.5).attr("stroke","#222").attr("stroke-width",1);
const gDots=svg.append("g");
geneNames.forEach((g,gi)=>{
 const listed=new Map(geneDots[gi].map(d=>[d[0],d]));
 d3.range(1,21).forEach(col=>{const d=listed.get(col);
  gDots.append("circle").attr("cx",cx(col)).attr("cy",cy(g)).attr("r",d?rDot(d[1]):.6).attr("fill",d?cDot(d[2]):"#d4d4d4");});
});
popColors.forEach((c,i)=>{
 svg.append("rect").attr("x",cx(i+1)-5.06).attr("y",718).attr("width",10.12).attr("height",10).attr("fill",c);
 txt(svg,cx(i+1)-2.5,734,String(i+1),{size:8.3,rotate:45,fill:"#222"});
 txt(svg,cx(i+1)-3,11.5,String(i+1),{size:8.3,rotate:-45,fill:"#222"});
});
txt(svg,562,757,"Cells detected (%)",{size:10,fill:"#222",family:"Noto Sans"});
txt(svg,690,757,"Expression",{size:10,fill:"#222",family:"Noto Sans"});
sizeLegendLabels.forEach((l,i)=>{
 const x=580.7+i*11;
 svg.append("circle").attr("cx",x).attr("cy",764).attr("r",rDot(sizeLegendSizes[i])).attr("fill","#000");
 txt(svg,x-2.5,775,l,{size:7.5,rotate:45,fill:"#333",family:"Noto Sans"});
});
const grad=defs.append("linearGradient").attr("id","exprG");
d3.range(0,1.01,.25).forEach(t=>grad.append("stop").attr("offset",t).attr("stop-color",cDot(t*2.5)));
const eScale=d3.scaleLinear().domain([0,2.5]).range([686,740.7]);
svg.append("rect").attr("x",686).attr("y",762).attr("width",54.7).attr("height",11).attr("fill","url(#exprG)");
exprTicks.forEach(v=>{
 svg.append("line").attr("x1",eScale(v)).attr("x2",eScale(v)).attr("y1",762).attr("y2",773).attr("stroke","#fff").attr("stroke-opacity",.4).attr("stroke-width",.5);
 txt(svg,eScale(v)-3,778,d3.format(".1f")(v),{size:7.5,rotate:45,fill:"#333",family:"Noto Sans"});
});

/* ---------- D ---------- */
const dx=d3.scaleLinear().domain([0,100]).range([60.7,300.3]);
const dRowY=[888.3,899.3,910.7,921.7,933,944,966.3,977.3,988.3,999.3,1010.7,1021.7];
svg.append("rect").attr("x",50).attr("y",883).attr("width",250.3).attr("height",147).attr("fill","#fff").attr("stroke","#d8d8d8").attr("stroke-width",.8);
dTicks.forEach(v=>svg.append("line").attr("x1",dx(v)).attr("x2",dx(v)).attr("y1",883).attr("y2",1030).attr("stroke","#cfcfcf").attr("stroke-width",.8));
dMeans.forEach((v,i)=>{
 const y=dRowY[i];
 svg.append("rect").attr("x",50).attr("y",y-5.5).attr("width",10.5).attr("height",11).attr("fill",genotypeColors[dColorIdx[i]]).attr("stroke","#fff").attr("stroke-width",.5);
 svg.append("rect").attr("x",dx(0)).attr("y",y-2.7).attr("width",dx(v)-dx(0)).attr("height",5.4).attr("fill","#27508f");
 const a=dx(v-dErrors[i]),b=dx(v+dErrors[i]);
 svg.append("path").attr("d",`M${a},${y-1.6}V${y+1.6}M${a},${y}H${b}M${b},${y-1.6}V${y+1.6}`).attr("stroke","#333").attr("stroke-width",.6).attr("fill","none");
});
const dAx=svg.append("g").attr("transform","translate(0,1030)").call(d3.axisBottom(dx).tickValues(dTicks).tickSize(0).tickPadding(2));
dAx.select(".domain").remove();dAx.selectAll("text").attr("font-size",6.5).attr("fill","#222").style("font-family","Liberation Sans");
txt(svg,178,1050,"% of total population stage/genotype",{size:10.2,anchor:"middle",fill:"#222"});
txt(svg,26,881,"E16.5",{size:11,bold:true,fill:"#6f6f6f"});
txt(svg,43,961,"P3",{size:11.5,bold:true,fill:"#111"});
txt(svg,36,1037,"J1",{size:12.5,italic:true,fill:"#111"});
[[889,915,0,897],[922,947,1,939],[963,988,0,971],[996,1022,1,1013]].forEach(d=>{
 svg.append("line").attr("x1",307.5).attr("x2",307.5).attr("y1",d[0]).attr("y2",d[1]).attr("stroke","#222").attr("stroke-width",1.2);
 if(d[2]==0){txt(svg,311.5,d[3],"Parenchymal +",{size:10.8,fill:"#222"});txt(svg,311.5,d[3]+15,"Kupffer cells",{size:10.8,fill:"#222"});}
 else txt(svg,311.5,d[3],groupLabels[1],{size:10.8,fill:"#222"});
});

/* ---------- E ---------- */
const ey=d3.scaleLinear().domain([0,100]).range([1046,816]);
const order=d3.range(20);
function stackPanel(a,b,x0,x1){
 const rows=[a,b].map(s=>Object.fromEntries(order.map(k=>[k,s[k]])));
 const series=d3.stack().keys(order)(rows);
 const x=d3.scaleLinear().domain([0,1]).range([x0,x1]);
 const ar=d3.area().x((d,i)=>x(i)).y0(d=>ey(d[0])).y1(d=>ey(d[1]));
 series.forEach((s,k)=>svg.append("path").attr("d",ar(s)).attr("fill",popColors[19-k]));
 svg.append("rect").attr("x",x0).attr("y",ey(100)).attr("width",x1-x0).attr("height",ey(0)-ey(100)).attr("fill","none").attr("stroke","#cfcbe3").attr("stroke-width",.9);
}
stackPanel(shareLeftP3,shareLeftE,440.7,528);
stackPanel(shareRightE,shareRightP3,532.7,620);
const yL=svg.append("g").attr("transform","translate(440.7,0)").call(d3.axisLeft(ey).tickValues(pctTicks).tickFormat(d=>d+"%").tickSize(0).tickPadding(1.5));
const yR=svg.append("g").attr("transform","translate(620,0)").call(d3.axisRight(ey).tickValues(pctTicks).tickFormat(d=>d+"%").tickSize(0).tickPadding(2));
[yL,yR].forEach(a=>{a.select(".domain").remove();a.selectAll("text").attr("font-size",7.6).attr("fill","#222").style("font-family","Liberation Sans");});
pctTicks.forEach(v=>{svg.append("line").attr("x1",528).attr("x2",530).attr("y1",ey(v)).attr("y2",ey(v)).attr("stroke","#cfcbe3").attr("stroke-width",.8);
 svg.append("line").attr("x1",530.7).attr("x2",532.7).attr("y1",ey(v)).attr("y2",ey(v)).attr("stroke","#cfcbe3").attr("stroke-width",.8);});
sup(svg,484,811,"Jag1","+/+",{size:8.4,anchor:"middle",bold:true,supItalic:true});
sup(svg,576,811,"Jag1","Ndr/Ndr",{size:8.4,anchor:"middle",bold:true,supItalic:true});
txt(svg,445,1058.5,"P3",{size:8.5,bold:true,anchor:"middle"});
txt(svg,530,1060.5,"E16.5",{size:8.5,bold:true,anchor:"middle"});
txt(svg,616,1058.5,"P3",{size:8.5,bold:true,anchor:"middle"});
txt(svg,645,808,"Cell populations:",{size:9.4,fill:"#222"});
const eLegY=[118,151,181,212,260,291,333,371,403,435,465,498,530,559,610,644,690,721,753,785].map(v=>v/3+780);
populations.forEach((n,i)=>{
 svg.append("rect").attr("x",647).attr("y",eLegY[i]-4.7).attr("width",10).attr("height",9.6).attr("fill",popColors[i]);
 txt(svg,662,eLegY[i]+2.8,(i+1)+" "+n,{size:8.1,fill:"#222"});
});
[[902,968],[971,1008],[1010,1045]].forEach(d=>svg.append("line").attr("x1",756.5).attr("x2",756.5).attr("y1",d[0]).attr("y2",d[1]).attr("stroke","#333").attr("stroke-width",.7));
txt(svg,759,935,"Myeloid",{size:7.5,anchor:"middle",rotate:90,fill:"#222"});
txt(svg,759,989,"Lymphoid",{size:7.5,anchor:"middle",rotate:90,fill:"#222"});
txt(svg,759,1041,"Erythroid lineages",{size:7.5,anchor:"middle",rotate:90,fill:"#222"});
</script></body></html>
